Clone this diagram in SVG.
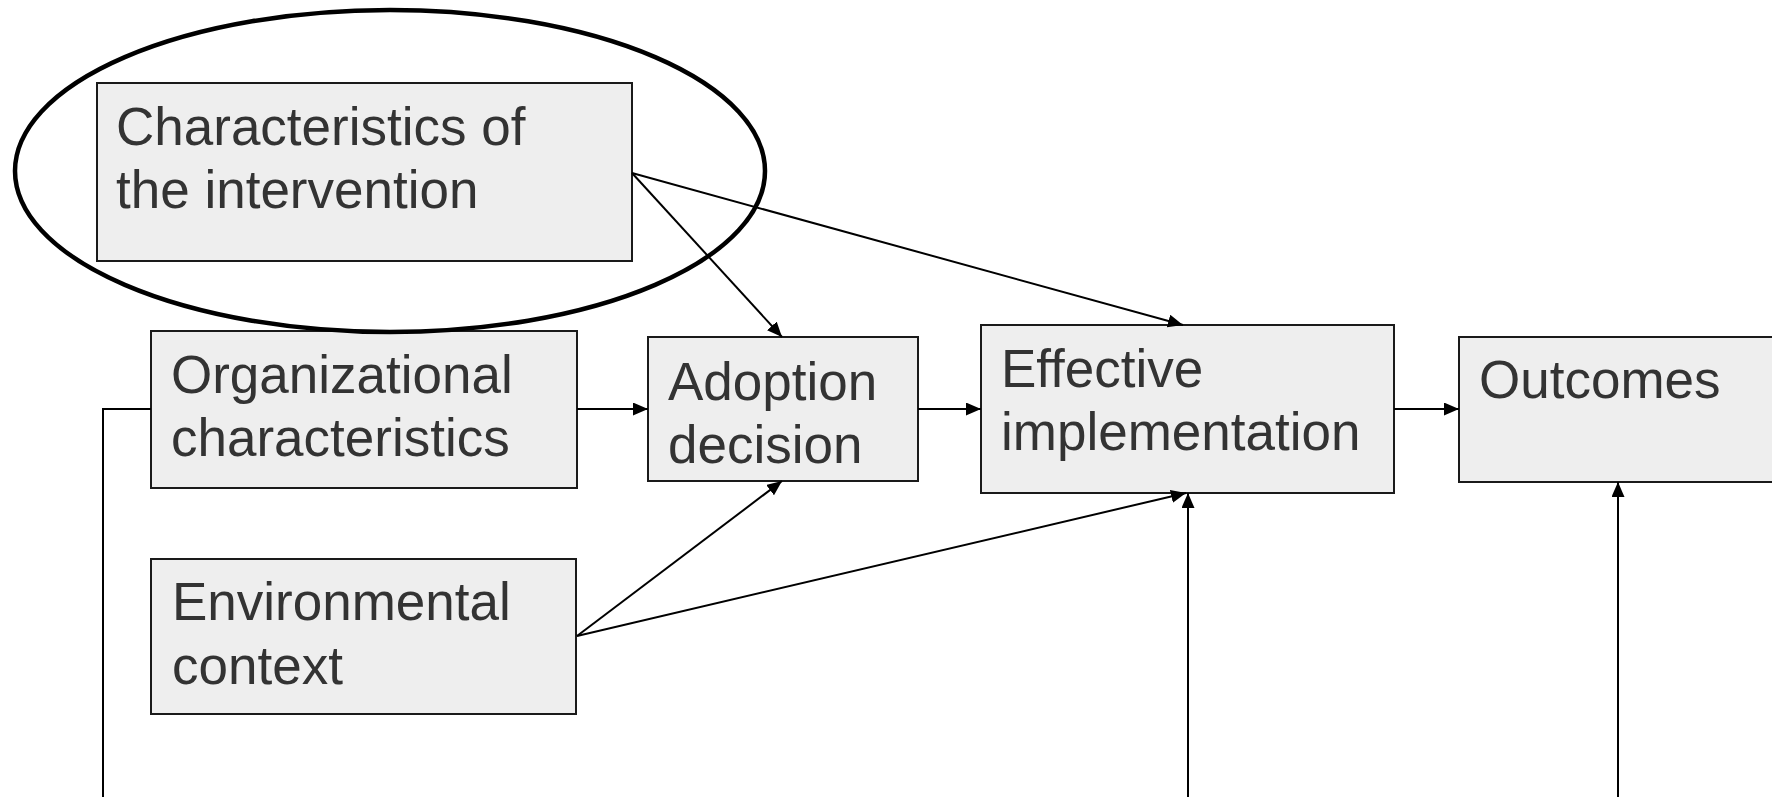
<svg xmlns="http://www.w3.org/2000/svg" width="1772" height="797" viewBox="0 0 1772 797">
  <style>
    .box { fill: #eeeeee; stroke: #1a1a1a; stroke-width: 2; }
    .lbl { font-family: "Liberation Sans", Arial, sans-serif; font-size: 53px; fill: #333333; }
    .conn { fill: none; stroke: #000000; stroke-width: 2; }
    .ring { fill: none; stroke: #000000; stroke-width: 4.5; }
  </style>
  <defs>
    <marker id="arrow" markerUnits="userSpaceOnUse" markerWidth="16" markerHeight="14" refX="15" refY="6.5" orient="auto">
      <path d="M0,0 L15,6.5 L0,13 z" fill="#000000"/>
    </marker>
  </defs>
  <rect width="1772" height="797" fill="#ffffff"/>

  <g id="characteristics">
    <rect class="box" x="97" y="83" width="535" height="178"/>
    <text class="lbl" x="116" y="145">Characteristics of</text>
    <text class="lbl" x="116" y="208">the intervention</text>
  </g>

  <g id="organizational">
    <rect class="box" x="151" y="331" width="426" height="157"/>
    <text class="lbl" x="171" y="393">Organizational</text>
    <text class="lbl" x="171" y="456">characteristics</text>
  </g>

  <g id="environmental">
    <rect class="box" x="151" y="559" width="425" height="155"/>
    <text class="lbl" x="172" y="620">Environmental</text>
    <text class="lbl" x="172" y="684">context</text>
  </g>

  <g id="adoption">
    <rect class="box" x="648" y="337" width="270" height="144"/>
    <text class="lbl" x="668" y="400">Adoption</text>
    <text class="lbl" x="668" y="463">decision</text>
  </g>

  <g id="effective">
    <rect class="box" x="981" y="325" width="413" height="168"/>
    <text class="lbl" x="1001" y="387">Effective</text>
    <text class="lbl" x="1001" y="450">implementation</text>
  </g>

  <g id="outcomes">
    <rect class="box" x="1459" y="337" width="330" height="145"/>
    <text class="lbl" x="1479" y="398">Outcomes</text>
  </g>

  <g id="highlight">
    <ellipse class="ring" cx="390" cy="171" rx="375" ry="161"/>
  </g>

  <g id="connectors">
    <line class="conn" x1="632" y1="173" x2="782" y2="337" marker-end="url(#arrow)"/>
    <line class="conn" x1="632" y1="173" x2="1183" y2="325" marker-end="url(#arrow)"/>
    <line class="conn" x1="577" y1="409" x2="648" y2="409" marker-end="url(#arrow)"/>
    <line class="conn" x1="918" y1="409" x2="981" y2="409" marker-end="url(#arrow)"/>
    <line class="conn" x1="1394" y1="409" x2="1459" y2="409" marker-end="url(#arrow)"/>
    <line class="conn" x1="577" y1="636" x2="782" y2="481" marker-end="url(#arrow)"/>
    <line class="conn" x1="577" y1="636" x2="1186" y2="493" marker-end="url(#arrow)"/>
    <polyline class="conn" points="151,409 103,409 103,797"/>
    <line class="conn" x1="1188" y1="797" x2="1188" y2="493" marker-end="url(#arrow)"/>
    <line class="conn" x1="1618" y1="797" x2="1618" y2="482" marker-end="url(#arrow)"/>
  </g>
</svg>
